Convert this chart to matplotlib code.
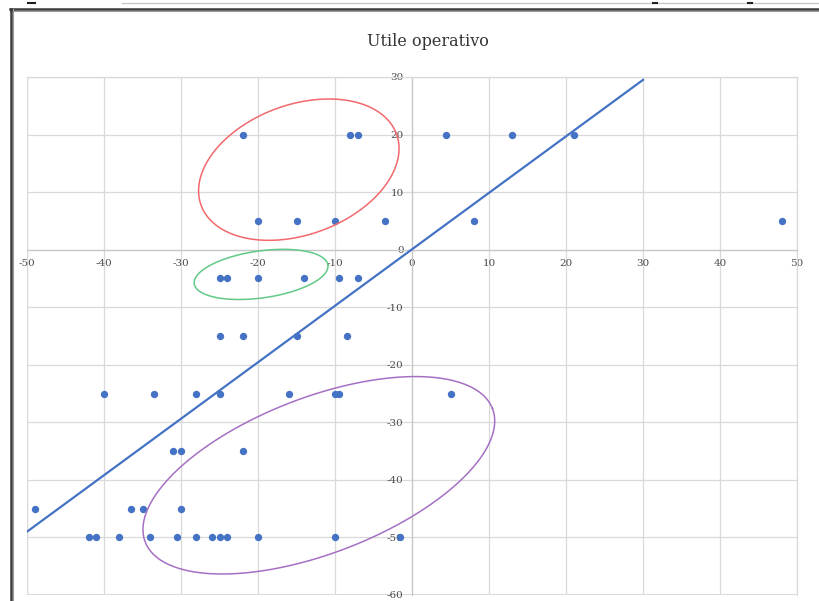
import numpy as np
import matplotlib
matplotlib.use("Agg")
import matplotlib.pyplot as plt
from matplotlib.lines import Line2D

plt.rcParams["axes.unicode_minus"] = False

# Scatter data: x and y values of each point
x_vals = [-22, -8, -7, 4.4, 13, 21,
          -20, -15, -10, -3.5, 8, 48,
          -25, -24, -20, -14, -9.5, -7,
          -25, -22, -15, -8.5,
          -40, -33.5, -28, -25, -16, -10, -9.5, 5,
          -31, -30, -22,
          -49, -36.5, -35, -30,
          -42, -41, -38, -34, -30.5, -28, -26, -25, -24, -20, -10, -1.5]
y_vals = [20, 20, 20, 20, 20, 20,
          5, 5, 5, 5, 5, 5,
          -5, -5, -5, -5, -5, -5,
          -15, -15, -15, -15,
          -25, -25, -25, -25, -25, -25, -25, -25,
          -35, -35, -35,
          -45, -45, -45, -45,
          -50, -50, -50, -50, -50, -50, -50, -50, -50, -50, -50, -50]

# Reference line
line_x = [-50, 30]
line_y = [-49, 29.5]

x_ticks = list(range(-50, 51, 10))
y_ticks = list(range(-60, 31, 10))

title = "Utile operativo"

W, H = 819, 601
fig = plt.figure(figsize=(W / 100, H / 100), dpi=100)
ax_l, ax_r, ax_t, ax_b = 27, 797, 77, 595
ax = fig.add_axes([ax_l / W, 1 - ax_b / H, (ax_r - ax_l) / W, (ax_b - ax_t) / H])

ax.set_xlim(-50, 50)
ax.set_ylim(-60, 30)
ax.set_xticks(x_ticks)
ax.set_yticks(y_ticks)
ax.grid(True, color="#d9d9d9", linewidth=0.9)
ax.set_axisbelow(True)

for s in ["top", "right"]:
    ax.spines[s].set_color("#d9d9d9")
    ax.spines[s].set_linewidth(0.9)
ax.spines["left"].set_position(("data", 0))
ax.spines["bottom"].set_position(("data", 0))
ax.spines["left"].set_color("#c8c8c8")
ax.spines["bottom"].set_color("#c8c8c8")
ax.spines["left"].set_linewidth(0.9)
ax.spines["bottom"].set_linewidth(0.9)

# Outer grid edges (the original spines have moved to zero)
ax.axvline(-50, color="#d9d9d9", lw=0.9, zorder=0)
ax.axhline(-60, color="#d9d9d9", lw=1.5, zorder=0)

ax.tick_params(axis="both", length=0, labelsize=7.5, labelcolor="#4a4a4a")
ax.tick_params(axis="x", pad=7)
ax.tick_params(axis="y", pad=6)
for lab in ax.get_xticklabels() + ax.get_yticklabels():
    lab.set_fontfamily("DejaVu Serif")

ax.plot(line_x, line_y, color="#4472C4", lw=1.6, zorder=3)
ax.scatter(x_vals, y_vals, s=28, color="#4472C4", zorder=4, linewidths=0)

# Highlight ellipses, sized in screen pixels so they keep their tilt
px_x = (ax_r - ax_l) / 100.0
px_y = (ax_b - ax_t) / 90.0


def screen_ellipse(cx, cy, a, b, angle, color):
    t = np.linspace(0, 2 * np.pi, 400)
    th = np.deg2rad(angle)
    u = a * np.cos(t) * np.cos(th) - b * np.sin(t) * np.sin(th)
    v = a * np.cos(t) * np.sin(th) + b * np.sin(t) * np.cos(th)
    ax.plot(cx + u / px_x, cy + v / px_y, color=color, lw=1.1, zorder=5,
            clip_on=False)


screen_ellipse(-14.7, 13.9, 104, 65, 20, "#f2686c")
screen_ellipse(-19.6, -4.3, 67.5, 23.5, 8, "#62c987")
screen_ellipse(-12.1, -39.2, 186, 78, 21, "#a570c4")

fig.text(428 / W, 1 - 42 / H, title, ha="center", va="center",
         fontsize=11.5, family="DejaVu Serif", color="#333333")

# Chart-area border and strip above it
def fig_line(xs, ys, **kw):
    fig.add_artist(Line2D([x / W for x in xs], [1 - y / H for y in ys],
                          transform=fig.transFigure, **kw))


fig_line([10, W], [9, 9], color="#3a3a3a", lw=1.8)
fig_line([10, W], [11, 11], color="#9a9a9a", lw=0.8)
fig_line([11, 11], [9, H], color="#3a3a3a", lw=1.8)
fig_line([13, 13], [9, H], color="#9a9a9a", lw=0.8)
fig_line([122, W], [3, 3], color="#c8c8c8", lw=1.0)
fig_line([28, 35], [3, 3], color="#202020", lw=1.5)
fig_line([653, 657], [3, 3], color="#202020", lw=1.5)
fig_line([748, 752], [3, 3], color="#202020", lw=1.5)

fig.savefig("out.png", dpi=100)
